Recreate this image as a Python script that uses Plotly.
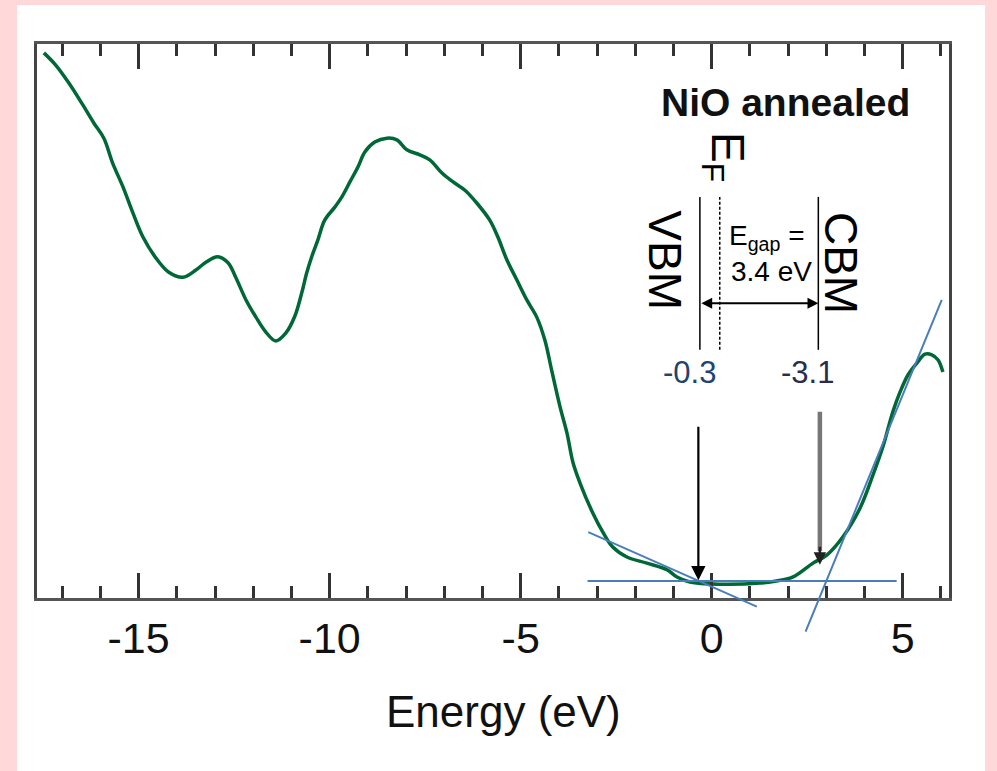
import plotly.graph_objects as go

# ---- data ----
energy = [-17.48, -17.17, -16.83, -16.46, -16.17, -15.91, -15.68, -15.41, -15.15, -14.89,
          -14.55, -14.21, -13.84, -13.50, -13.24, -12.93, -12.66, -12.46, -12.19, -11.93,
          -11.67, -11.41, -11.15, -10.91, -10.73, -10.60, -10.47, -10.31, -10.13, -9.86,
          -9.68, -9.47, -9.26, -9.08, -8.82, -8.50, -8.24, -7.98, -7.64, -7.38,
          -7.06, -6.77, -6.46, -6.15, -5.81, -5.60, -5.36, -5.10, -4.84, -4.58,
          -4.37, -4.18, -3.97, -3.79, -3.63, -3.45, -3.11, -2.85, -2.59, -2.22,
          -1.70, -1.17, -0.91, -0.57, 0.21, 1.26, 1.73, 2.13, 2.65, 3.02,
          3.43, 3.88, 4.22, 4.48, 4.74, 4.93, 5.14, 5.37, 5.58, 5.76, 5.92, 6.05]
intensity = [98.4, 96.2, 93.0, 89.0, 85.7, 83.0, 78.5, 74.2, 69.5, 65.2,
             61.4, 58.8, 57.9, 59.2, 60.6, 61.6, 60.5, 57.9, 53.8, 50.7,
             48.0, 46.4, 47.8, 50.9, 55.1, 58.7, 61.6, 64.6, 68.2, 70.6,
             72.4, 75.1, 77.8, 80.5, 82.3, 83.0, 82.7, 80.9, 80.0, 79.1,
             76.7, 75.1, 73.6, 71.3, 68.2, 65.2, 61.0, 57.4, 53.8, 50.7,
             46.6, 40.8, 34.5, 29.8, 24.4, 20.8, 15.3, 11.9, 9.2, 7.4,
             6.3, 5.1, 3.8, 2.9, 2.5, 2.7, 3.1, 3.8, 6.3, 7.8,
             11.0, 16.2, 22.2, 27.3, 33.6, 37.2, 40.3, 42.4, 44.0, 43.9, 43.0, 40.8]

tick_vals = [-15, -10, -5, 0, 5]
tick_text = ["-15", "-10", "-5", "0", "5"]

# tangent lines: (x0, y0, x1, y1)
baseline_fit = (-3.29, 3.07, 4.84, 3.07)
vbm_fit = (-3.27, 12.0, 1.18, -1.57)
cbm_fit = (2.44, -6.32, 6.02, 53.8)

vbm_pos, ef_pos, cbm_pos = -0.31, 0.21, 2.79
marker_line_y = (44.8, 72.4)
gap_arrow_y = 53.2
vbm_value, cbm_value = "-0.3", "-3.1"

X_RANGE = [-17.66, 6.21]
Y_RANGE = [0, 100]

FONT = "Liberation Sans, Arial, sans-serif"
GREEN = "#006837"
BLUE = "#4a7ebb"

fig = go.Figure()

fig.add_trace(go.Scatter(x=energy, y=intensity, mode="lines",
                         line=dict(color=GREEN, width=3.5, shape="spline", smoothing=1.0),
                         hoverinfo="skip", showlegend=False))

# vertical marker lines
fig.add_trace(go.Scatter(x=[vbm_pos, vbm_pos], y=list(marker_line_y), mode="lines",
                         line=dict(color="black", width=1.5), showlegend=False))
fig.add_trace(go.Scatter(x=[ef_pos, ef_pos], y=list(marker_line_y), mode="lines",
                         line=dict(color="black", width=1.5, dash="3px,2px"), showlegend=False))
fig.add_trace(go.Scatter(x=[cbm_pos, cbm_pos], y=list(marker_line_y), mode="lines",
                         line=dict(color="black", width=1.5), showlegend=False))

annotations = []

def line_ann(seg, color, width):
    x0, y0, x1, y1 = seg
    return dict(x=x1, y=y1, ax=x0, ay=y0, xref="x", yref="y", axref="x", ayref="y",
                text="", showarrow=True, arrowhead=0, arrowwidth=width, arrowcolor=color,
                standoff=0, startstandoff=0)

for seg in (baseline_fit, vbm_fit, cbm_fit):
    annotations.append(line_ann(seg, BLUE, 2))

# band-gap double arrow
annotations.append(dict(x=cbm_pos, y=gap_arrow_y, ax=vbm_pos, ay=gap_arrow_y,
                        xref="x", yref="y", axref="x", ayref="y", text="", showarrow=True,
                        arrowhead=2, startarrowhead=2, arrowside="end+start",
                        arrowsize=1.2, startarrowsize=1.2, arrowwidth=1.8, arrowcolor="black",
                        standoff=0, startstandoff=0))

# downward arrows
annotations.append(dict(x=-0.35, y=3.2, ax=-0.35, ay=31.2, xref="x", yref="y",
                        axref="x", ayref="y", text="", showarrow=True, arrowhead=2,
                        arrowsize=1.3, arrowwidth=2.2, arrowcolor="black", standoff=0))
annotations.append(dict(x=2.83, y=8.5, ax=2.83, ay=33.9, xref="x", yref="y",
                        axref="x", ayref="y", text="", showarrow=True, arrowhead=0,
                        arrowwidth=4.5, arrowcolor="#777777", standoff=0))
annotations.append(dict(x=2.83, y=6.0, ax=2.83, ay=9.5, xref="x", yref="y",
                        axref="x", ayref="y", text="", showarrow=True, arrowhead=2,
                        arrowsize=1.0, arrowwidth=2.5, arrowcolor="#222222", standoff=0))

# texts
annotations += [
    dict(x=1.94, y=89.4, xref="x", yref="y", text="<b>NiO annealed</b>", showarrow=False,
         font=dict(family=FONT, size=39, color="#111111")),
    dict(x=0.35, y=79.6, xref="x", yref="y", text="E<sub>F</sub>", showarrow=False,
         textangle=90, font=dict(family=FONT, size=46, color="black")),
    dict(x=-1.23, y=61.0, xref="x", yref="y", text="VBM", showarrow=False,
         textangle=90, font=dict(family=FONT, size=46, color="black")),
    dict(x=3.38, y=60.5, xref="x", yref="y", text="CBM", showarrow=False,
         textangle=90, font=dict(family=FONT, size=46, color="black")),
    dict(x=1.44, y=65.0, xref="x", yref="y", text="E<sub>gap</sub> =", showarrow=False,
         font=dict(family=FONT, size=28, color="black")),
    dict(x=1.57, y=59.0, xref="x", yref="y", text="3.4 eV", showarrow=False,
         font=dict(family=FONT, size=28, color="black")),
    dict(x=-0.57, y=40.7, xref="x", yref="y", text=vbm_value, showarrow=False,
         font=dict(family=FONT, size=31, color="#23426f")),
    dict(x=2.50, y=40.7, xref="x", yref="y", text=cbm_value, showarrow=False,
         font=dict(family=FONT, size=31, color="#2b2b4a")),
    dict(x=0.5115, y=-0.252, xref="paper", yref="paper", text="Energy (eV)", showarrow=False,
         font=dict(family=FONT, size=44, color="#111111")),
]

fig.update_layout(
    width=997, height=771,
    margin=dict(l=37, r=48, t=44, b=173),
    paper_bgcolor="#FFD9D9",
    plot_bgcolor="white",
    showlegend=False,
    annotations=annotations,
    shapes=[dict(type="rect", xref="paper", yref="paper",
                 x0=-0.0219, x1=1.0395, y0=-0.40, y1=1.0704,
                 fillcolor="white", line=dict(width=0), layer="below")],
    xaxis=dict(range=X_RANGE, tickvals=tick_vals, ticktext=tick_text,
               showline=True, linecolor="#555555", linewidth=3, mirror="ticks",
               ticks="inside", ticklen=25, tickwidth=3, tickcolor="#333333",
               minor=dict(dtick=1, tick0=0, ticks="inside", ticklen=12, tickwidth=3,
                          tickcolor="#333333", showgrid=False),
               showgrid=False, zeroline=False,
               tickfont=dict(family=FONT, size=43, color="#111111")),
    yaxis=dict(range=Y_RANGE, showline=True, linecolor="#444444", linewidth=3, mirror=True,
               ticks="", showticklabels=False, showgrid=False, zeroline=False),
)

fig.write_html("out.html")
